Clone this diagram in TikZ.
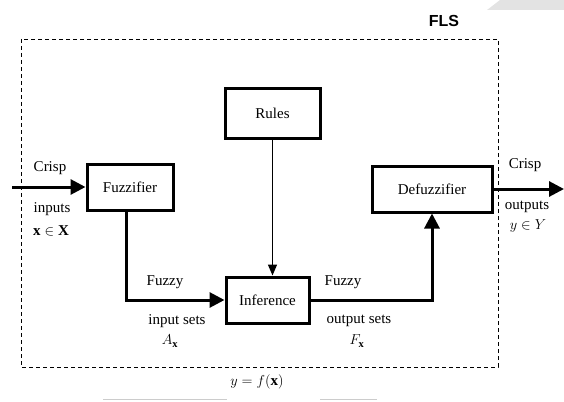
\documentclass[tikz,border=0pt]{standalone}
\usepackage{fontspec}
\setmainfont{Liberation Serif}
\newfontfamily\flsfont{Liberation Sans}
\usetikzlibrary{arrows.meta}
\begin{document}
\begin{tikzpicture}[x=1pt,y=-1pt,
  blk/.style={draw, line width=3pt, fill=white, inner sep=0pt, font=\fontsize{15}{17}\selectfont},
  lbl/.style={inner sep=0pt, font=\fontsize{15}{17}\selectfont},
  flow/.style={line width=3pt, -{Triangle[length=15pt,width=15pt]}},
  thinflow/.style={line width=1.4pt, -{Triangle[length=11pt,width=9pt]}}]
\useasboundingbox (0,0) rectangle (564,401);
\fill[gray!22] (487,10) -- (500,0) -- (564,0) -- (564,10) -- cycle;
\draw[line width=0.9pt, dashed, dash pattern=on 4pt off 3pt] (21,39) rectangle (498,367);
\node[font=\flsfont\bfseries\fontsize{16}{18}\selectfont, inner sep=0pt] (fls) at (444,21) {FLS};
\node[blk, minimum width=95pt, minimum height=49pt] (rules) at (272.5,113.5) {Rules};
\node[blk, minimum width=86pt, minimum height=46pt] (fuzz) at (130,187) {Fuzzifier};
\node[blk, minimum width=120pt, minimum height=46pt] (defuzz) at (432,189) {Defuzzifier};
\node[blk, minimum width=83pt, minimum height=46pt] (inf) at (267.5,300) {Inference};
\coordinate (in) at (12,187);
\coordinate (out) at (564,189);
\draw[flow] (in) -- (fuzz.west);
\draw[flow] (defuzz.east) -- (out);
\draw[flow] (fuzz.south -| 126,0) |- (inf.west);
\draw[flow] (inf.east) -| (defuzz.south);
\draw[thinflow] (rules.south) -- (rules.south |- inf.north);
\node[lbl] (c1) at (50,168) {Crisp};
\node[lbl] (i1) at (52,209) {inputs};
\node[lbl] (x1) at (51,231) {$\mathbf{x}\in\mathbf{X}$};
\node[lbl] (c2) at (525,165) {Crisp};
\node[lbl] (o2) at (527,207) {outputs};
\node[lbl] (y2) at (528,226) {$y\in Y$};
\node[lbl] (f1) at (165,282) {Fuzzy};
\node[lbl] (is) at (177,321) {input sets};
\node[lbl] (ax) at (170,341) {$A_{\mathbf{x}}$};
\node[lbl] (f2) at (343,282) {Fuzzy};
\node[lbl] (os) at (359,321) {output sets};
\node[lbl] (fx) at (357,341) {$F_{\mathbf{x}}$};
\node[lbl] (eq) at (257,382) {$y=f(\mathbf{x})$};
\draw[gray!40, line width=0.8pt] (103,399) -- (227,399);
\draw[gray!40, line width=0.8pt] (320,399) -- (377,399);
\end{tikzpicture}
\end{document}
